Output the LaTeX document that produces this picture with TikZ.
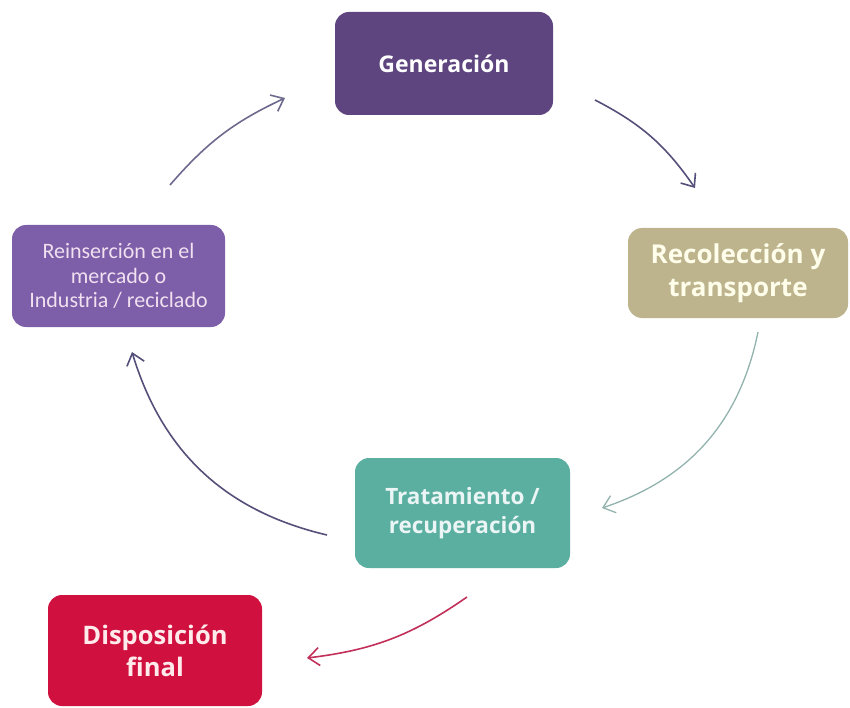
\documentclass[tikz,border=0pt]{standalone}
\usepackage{fontspec}
\setmainfont{Open Sans}
\newfontfamily\calfont{Carlito}
\usetikzlibrary{arrows.meta}
\definecolor{genpurple}{HTML}{5E4580}
\definecolor{reinspurple}{HTML}{7D5EA9}
\definecolor{reckhaki}{HTML}{BDB38D}
\definecolor{tratteal}{HTML}{5BAFA0}
\definecolor{dispred}{HTML}{D0103F}
\definecolor{arrowgray}{HTML}{55507A}
\definecolor{arrowteal}{HTML}{92B2AD}
\definecolor{arrowred}{HTML}{C2305A}
\begin{document}
\begin{tikzpicture}[x=1pt, y=1pt,
    stage/.style={rounded corners=14pt, align=center, inner sep=0pt},
    flow/.style={line width=1.6pt, -{Straight Barb[length=11pt,width=18pt]}}]
        \useasboundingbox (0,0) rectangle (850,-708);

        \node[stage, fill=genpurple, minimum width=218pt, minimum height=103pt, text=white,
              font=\fontsize{23}{28}\selectfont\bfseries] (gen) at (444,-63.5) {Generación};
        \node[stage, fill=reckhaki, minimum width=220pt, minimum height=90pt, text=white!92!yellow,
              font=\fontsize{26}{33}\selectfont\bfseries] (rec) at (738,-273) {Recolección y\\transporte};
        \node[stage, fill=tratteal, minimum width=215pt, minimum height=110pt, text=white!92!teal,
              font=\fontsize{22.5}{29}\selectfont\bfseries] (trat) at (462.5,-513) {Tratamiento /\\recuperación};
        \node[stage, fill=reinspurple, minimum width=213pt, minimum height=102pt, text=white!88!violet,
              font=\calfont\fontsize{22}{24.5}\selectfont] (reins) at (118.5,-276) {Reinserción en el\\mercado o\\Industria / reciclado};
        \node[stage, fill=dispred, minimum width=214pt, minimum height=111pt, text=white!92!red,
              font=\fontsize{25.5}{32}\selectfont\bfseries] (disp) at (155,-650.5) {Disposición\\final};

        \coordinate (genout) at (595,-100);
        \coordinate (recin) at (695,-188);
        \coordinate (recout) at (758,-332);
        \coordinate (tratin) at (602,-508);
        \coordinate (tratout) at (327,-535);
        \coordinate (reinsin) at (132,-352);
        \coordinate (reinsout) at (170,-185);
        \coordinate (genin) at (285,-98);
        \coordinate (tratdown) at (467,-597);
        \coordinate (dispin) at (307,-658);

        \draw[flow, arrowgray] (genout) to[bend left=14] (recin);
        \draw[flow, arrowteal, line width=1.3pt] (recout) to[bend left=30] (tratin);
        \draw[flow, arrowgray] (tratout) to[bend left=30] (reinsin);
        \draw[flow, arrowgray!85] (reinsout) to[bend left=12] (genin);
        \draw[flow, arrowred] (tratdown) to[bend left=14] (dispin);
\end{tikzpicture}
\end{document}
